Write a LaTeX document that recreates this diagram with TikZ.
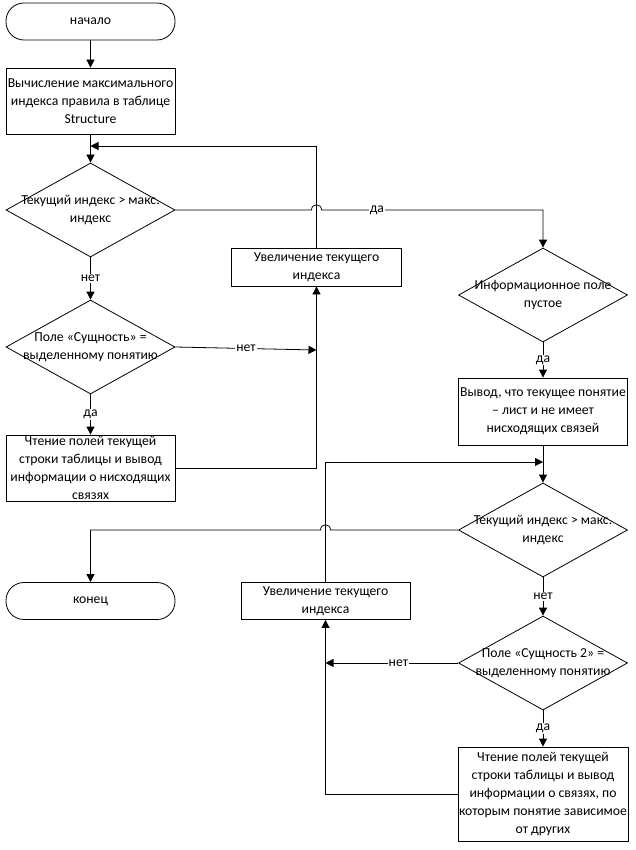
\documentclass[tikz,border=0pt]{standalone}
\usepackage{fontspec}
\setmainfont{Carlito}
\usetikzlibrary{shapes.geometric,arrows.meta}
\begin{document}
\begin{tikzpicture}[x=1pt,y=-1pt,
  every node/.style={font=\fontsize{13.7}{18}\selectfont, text=black},
  base/.style={draw=black, line width=0.8pt, inner sep=0pt, align=center},
  term/.style={base, rectangle, rounded corners=18pt, minimum width=169pt, minimum height=37pt},
  proc/.style={base, rectangle, minimum width=169pt},
  dec/.style={base, diamond, minimum width=169pt, minimum height=94pt},
  arr/.style={draw=black, line width=0.8pt, -{Triangle[length=8pt,width=8pt]}},
  ln/.style={draw=black, line width=0.8pt},
  lbl/.style={fill=white, inner sep=1pt}
]
\useasboundingbox (0,0) rectangle (635,850);
% nodes
\node[term] (start) at (90.5,21.5) {начало};
\node[proc, minimum height=66pt] (p1) at (90.5,101) {Вычисление максимального\\индекса правила в таблице\\Structure};
\node[dec, label={[align=center, inner sep=0pt]center:Текущий индекс > макс.\\индекс}] (d1) at (90.5,210) {};
\node[dec, label={[align=center, inner sep=0pt]center:Поле «Сущность» =\\выделенному понятию}] (d2) at (90.5,347) {};
\node[proc, minimum height=66pt] (p3) at (90.5,468) {Чтение полей текущей\\строки таблицы и вывод\\информации о нисходящих\\связях};
\node[proc, minimum width=170pt, minimum height=38pt] (inc1) at (316.5,267) {Увеличение текущего\\индекса};
\node[dec, label={[align=center, inner sep=0pt]center:Информационное поле\\пустое}] (d3) at (543,295) {};
\node[proc, minimum height=67pt] (p4) at (543,411.5) {Вывод, что текущее понятие\\– лист и не имеет\\нисходящих связей};
\node[dec, label={[align=center, inner sep=0pt]center:Текущий индекс > макс.\\индекс}] (d4) at (543,530) {};
\node[term] (end) at (90.5,601) {конец};
\node[proc, minimum height=37pt] (inc2) at (325.5,601) {Увеличение текущего\\индекса};
\node[dec, label={[align=center, inner sep=0pt]center:Поле «Сущность 2» =\\выделенному понятию}] (d5) at (543,663) {};
\node[proc, minimum width=170pt, minimum height=94pt] (p5) at (543,794) {Чтение полей текущей\\строки таблицы и вывод\\информации о связях, по\\которым понятие зависимое\\от других};
% helper coordinates
\coordinate (m1) at (90.5,146);
\coordinate (m2) at (316.5,350);
\coordinate (m3) at (543,462);
\coordinate (j1a) at (311.5,210);
\coordinate (j1b) at (321.5,210);
\coordinate (j2a) at (330.5,530);
\coordinate (j2b) at (320.5,530);
% connectors
\draw[arr] (start.south) -- (p1.north);
\draw[arr] (p1.south) -- (d1.north);
\draw[arr] (inc1.north) |- (m1);
\draw[arr] (d1.south) -- node[lbl]{нет} (d2.north);
\draw[arr] (d2.east) -- node[lbl]{нет} (m2);
\draw[arr] (d2.south) -- node[lbl]{да} (p3.north);
\draw[arr] (p3.east) -| (inc1.south);
\draw[arr] (d1.east) -- (j1a) .. controls +(0,-7) and +(0,-7) .. (j1b) -- node[lbl,pos=0.25]{да} (d1.east -| d3.north) -- (d3.north);
\draw[arr] (d3.south) -- node[lbl]{да} (p4.north);
\draw[arr] (p4.south) -- (d4.north);
\draw[arr] (inc2.north) |- (m3);
\draw[arr] (d4.west) -- (j2a) .. controls +(0,-7) and +(0,-7) .. (j2b) -- (d4.west -| end.north) -- (end.north);
\draw[arr] (d4.south) -- node[lbl]{нет} (d5.north);
\draw[arr] (d5.west) -- node[lbl,pos=0.45]{нет} (d5.west -| inc2.south);
\draw[arr] (d5.south) -- node[lbl]{да} (p5.north);
\draw[arr] (p5.west) -| (inc2.south);
\end{tikzpicture}
\end{document}
